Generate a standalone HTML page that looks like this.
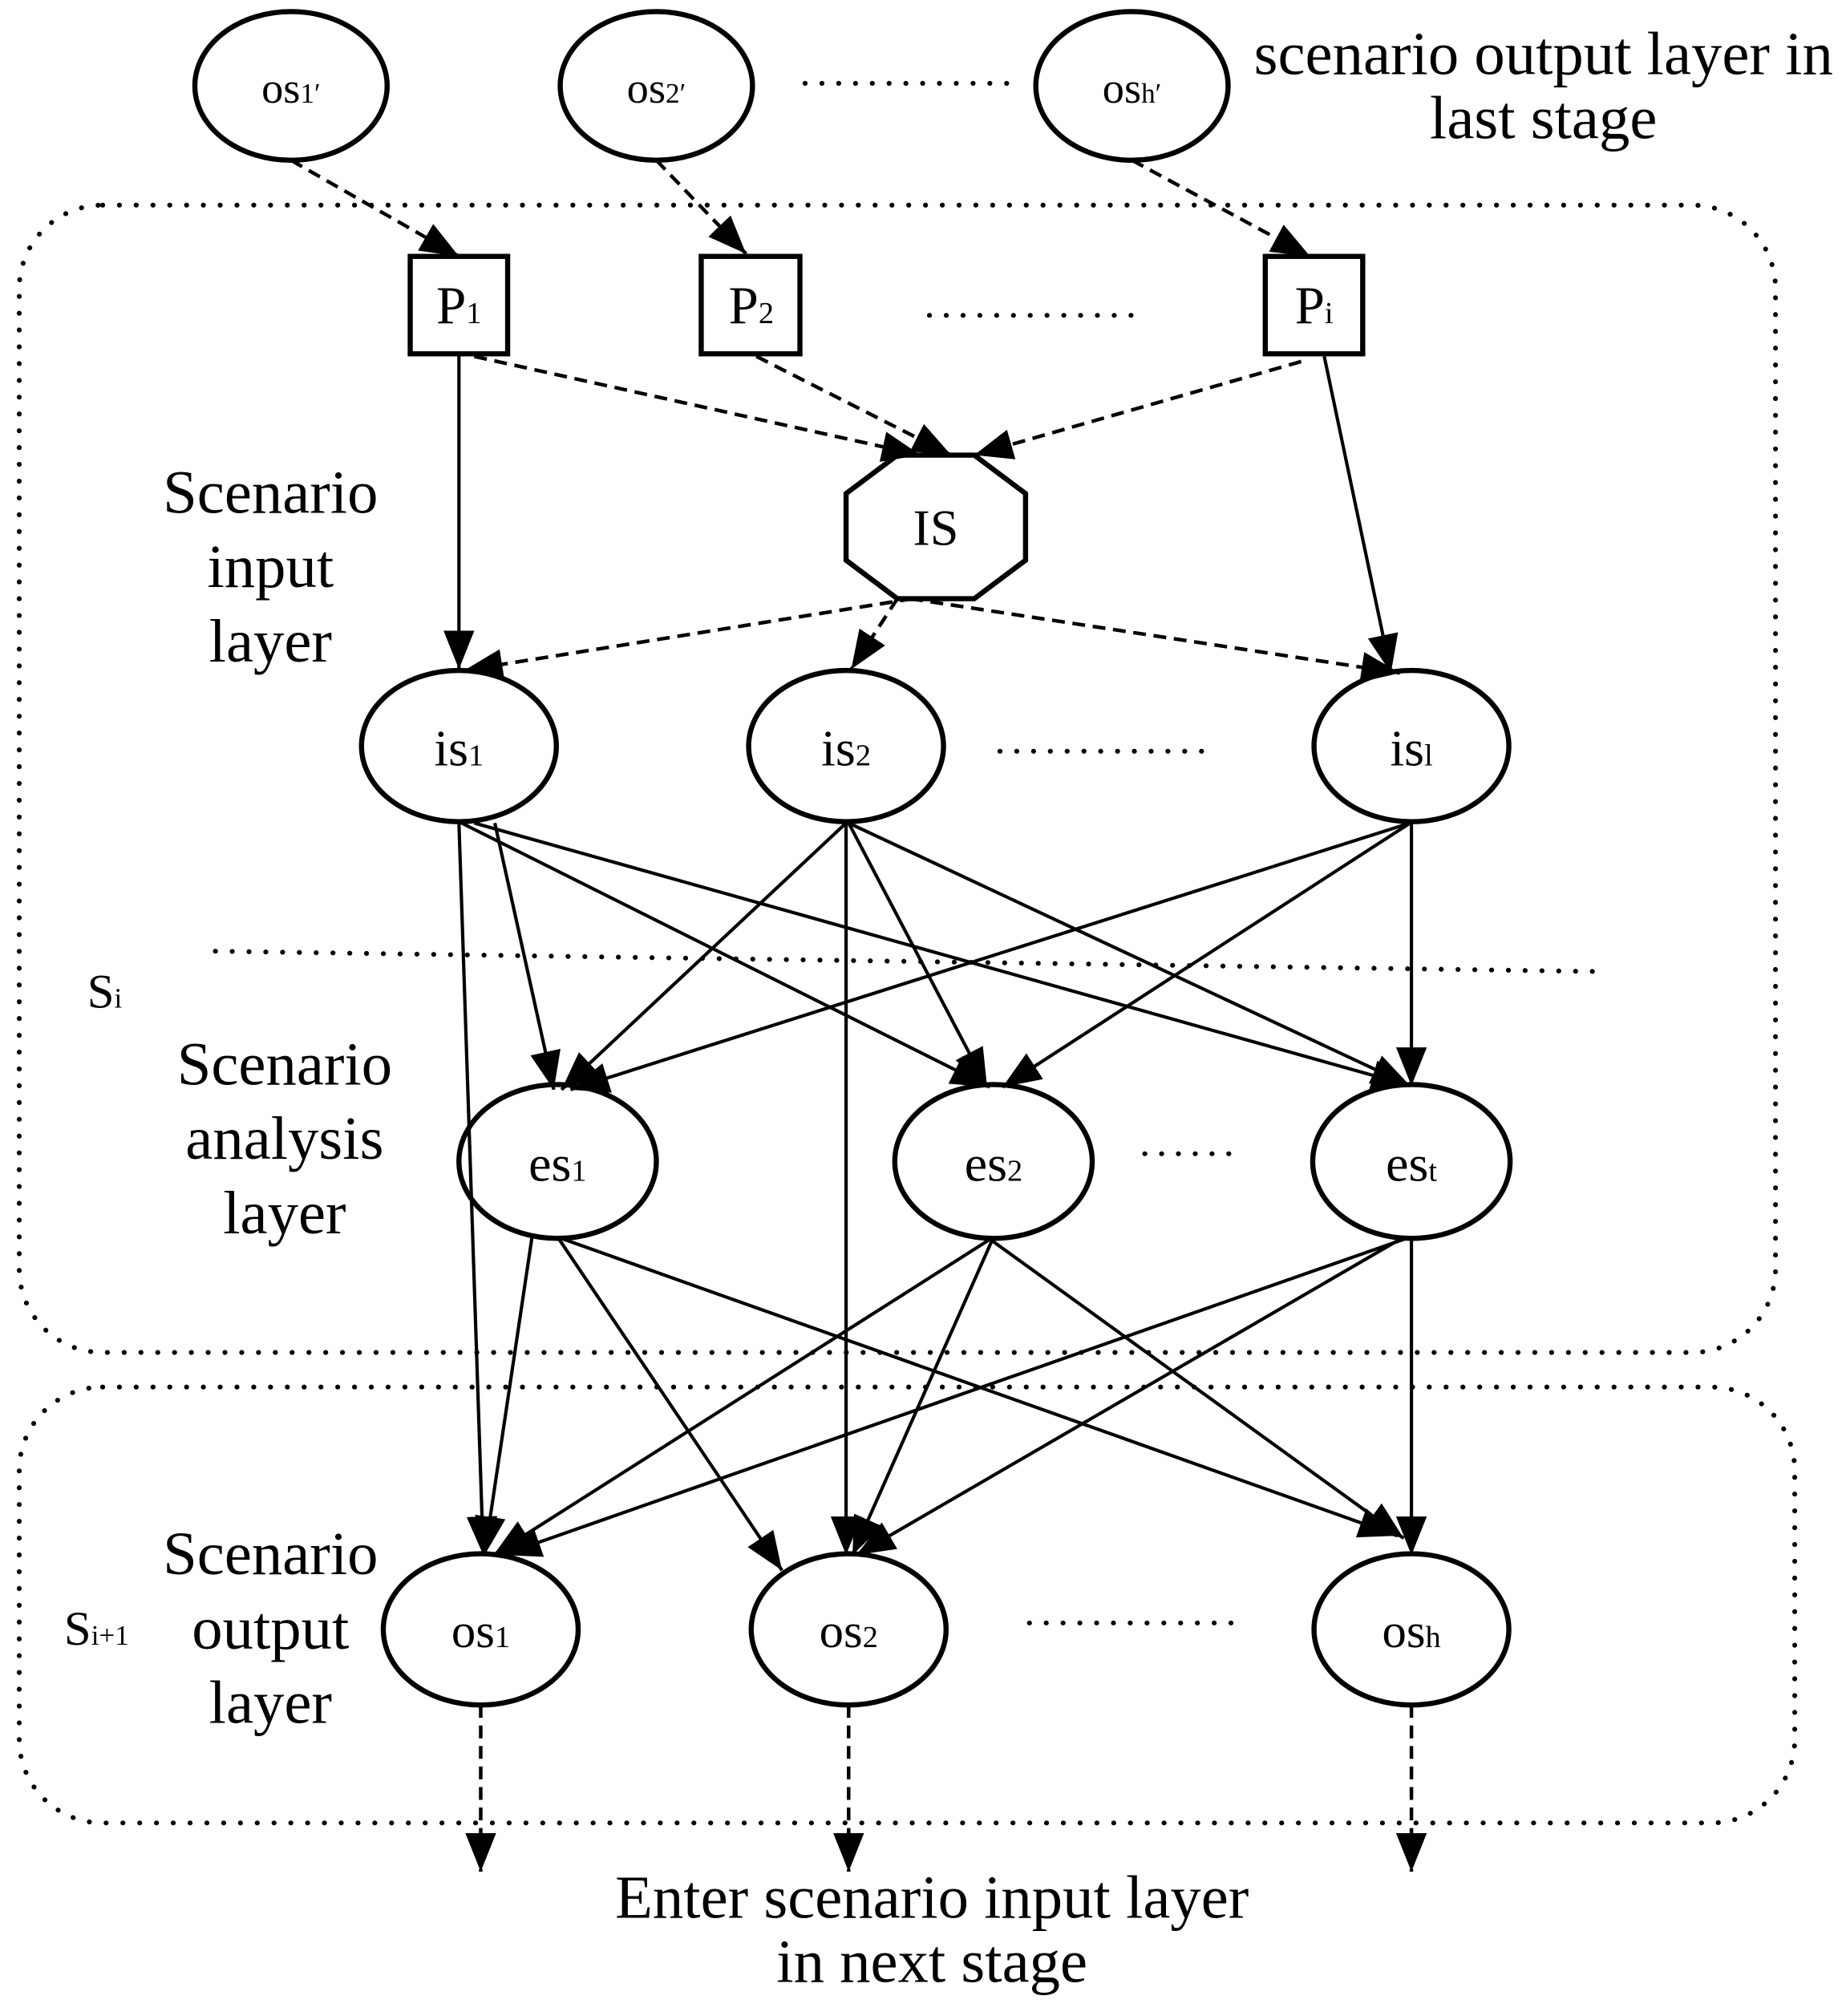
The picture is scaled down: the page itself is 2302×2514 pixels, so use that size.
<!DOCTYPE html>
<html><head><meta charset="utf-8"><style>html,body{margin:0;padding:0;background:#fff}svg{display:block}</style></head>
<body>
<svg width="2302" height="2514" viewBox="0 0 1440 1572.6" xmlns="http://www.w3.org/2000/svg" font-family="Liberation Serif, serif">
<defs>
<marker id="a" markerUnits="userSpaceOnUse" markerWidth="32" markerHeight="26" refX="30" refY="12" orient="auto"><path d="M0,0 L30,12 L0,24 z" fill="#000"/></marker>
</defs>
<g fill="none" stroke="#000" stroke-width="3.8" stroke-dasharray="0.1 13" stroke-linecap="round">
<rect x="15" y="160" width="1370" height="895" rx="65"/>
<rect x="15" y="1082" width="1385" height="340" rx="65"/>
<line x1="168" y1="742" x2="1255" y2="758"/>
<line x1="628" y1="65" x2="790" y2="65"/>
<line x1="725" y1="246" x2="885" y2="246"/>
<line x1="780" y1="586" x2="940" y2="586"/>
<line x1="893" y1="900" x2="968" y2="900"/>
<line x1="803" y1="1266" x2="962" y2="1266"/>
</g>
<g fill="#fff" stroke="#000" stroke-width="4">
<ellipse cx="227" cy="67" rx="75" ry="58"/><ellipse cx="512" cy="67" rx="75" ry="58"/><ellipse cx="883" cy="67" rx="75" ry="58"/>
<rect x="320" y="200" width="76" height="76"/><rect x="547" y="200" width="77" height="76"/><rect x="987" y="200" width="76" height="76"/>
<polygon points="700,355 760,355 800,385 800,437 760,467 700,467 660,437 660,385"/>
<ellipse cx="358" cy="582" rx="76" ry="59"/><ellipse cx="660" cy="582" rx="76" ry="59"/><ellipse cx="1101" cy="582" rx="76" ry="59"/>
<ellipse cx="435" cy="906" rx="77" ry="60"/><ellipse cx="775" cy="906" rx="77" ry="60"/><ellipse cx="1101" cy="906" rx="77" ry="60"/>
<ellipse cx="375" cy="1271" rx="76" ry="59"/><ellipse cx="662" cy="1271" rx="76" ry="59"/><ellipse cx="1101" cy="1271" rx="76" ry="59"/>
</g>
<g stroke="#000" stroke-width="2.8" fill="none" marker-end="url(#a)" stroke-dasharray="10 6">
<line x1="227" y1="125" x2="358" y2="200"/><line x1="512" y1="125" x2="582" y2="198"/><line x1="883" y1="125" x2="1022" y2="200"/>
<line x1="370" y1="278" x2="718" y2="355"/><line x1="590" y1="278" x2="742" y2="355"/><line x1="1015" y1="282" x2="760" y2="355"/>
<line x1="712" y1="467" x2="362" y2="523"/><line x1="700" y1="467" x2="664" y2="522"/><line x1="710" y1="467" x2="1092" y2="525"/>
<line x1="375" y1="1330" x2="375" y2="1460"/><line x1="662" y1="1330" x2="662" y2="1460"/><line x1="1101" y1="1330" x2="1101" y2="1460"/>
</g>
<g stroke="#000" stroke-width="2.6" fill="none" marker-end="url(#a)">
<line x1="358" y1="278" x2="358" y2="522"/><line x1="1033" y1="278" x2="1085" y2="525"/>
<line x1="386" y1="642" x2="432" y2="850"/><line x1="360" y1="642" x2="772" y2="848"/><line x1="370" y1="642" x2="1100" y2="847"/><line x1="358" y1="642" x2="377" y2="1213"/>
<line x1="660" y1="642" x2="438" y2="850"/><line x1="662" y1="642" x2="770" y2="848"/><line x1="662" y1="642" x2="1100" y2="847"/><line x1="660" y1="642" x2="660" y2="1213"/>
<line x1="1100" y1="642" x2="445" y2="850"/><line x1="1100" y1="642" x2="782" y2="848"/><line x1="1101" y1="642" x2="1101" y2="847"/>
<line x1="415" y1="965" x2="378" y2="1213"/><line x1="435" y1="965" x2="610" y2="1225"/><line x1="435" y1="965" x2="1090" y2="1198"/>
<line x1="775" y1="965" x2="385" y2="1213"/><line x1="775" y1="965" x2="665" y2="1213"/><line x1="770" y1="965" x2="1095" y2="1200"/>
<line x1="1100" y1="965" x2="392" y2="1213"/><line x1="1095" y1="965" x2="668" y2="1213"/><line x1="1101" y1="965" x2="1101" y2="1213"/>
</g>
<g font-size="34" text-anchor="middle" fill="#000">
<text x="227" y="80">os<tspan font-size="22">1′</tspan></text>
<text x="512" y="80">os<tspan font-size="22">2′</tspan></text>
<text x="883" y="80">os<tspan font-size="22">h′</tspan></text>
<text x="358" y="252" font-size="42">P<tspan font-size="24">1</tspan></text>
<text x="586" y="252" font-size="42">P<tspan font-size="24">2</tspan></text>
<text x="1025" y="252" font-size="42">P<tspan font-size="24">i</tspan></text>
<text x="730" y="425" font-size="40">IS</text>
<text x="358" y="597" font-size="40">is<tspan font-size="24">1</tspan></text>
<text x="660" y="597" font-size="40">is<tspan font-size="24">2</tspan></text>
<text x="1101" y="597" font-size="40">is<tspan font-size="24">l</tspan></text>
<text x="435" y="921" font-size="40">es<tspan font-size="24">1</tspan></text>
<text x="775" y="921" font-size="40">es<tspan font-size="24">2</tspan></text>
<text x="1101" y="921" font-size="40">es<tspan font-size="24">t</tspan></text>
<text x="375" y="1285" font-size="38">os<tspan font-size="24">1</tspan></text>
<text x="662" y="1285" font-size="38">os<tspan font-size="24">2</tspan></text>
<text x="1101" y="1285" font-size="38">os<tspan font-size="24">h</tspan></text>
</g>
<g font-size="48" text-anchor="middle" fill="#000">
<text x="1204" y="58">scenario output layer in</text>
<text x="1204" y="108">last stage</text>
<text x="211" y="400">Scenario</text><text x="211" y="458">input</text><text x="211" y="516">layer</text>
<text x="222" y="846">Scenario</text><text x="222" y="904">analysis</text><text x="222" y="962">layer</text>
<text x="211" y="1228">Scenario</text><text x="211" y="1286">output</text><text x="211" y="1344">layer</text>
<text x="727" y="1496">Enter scenario input layer</text>
<text x="727" y="1546">in next stage</text>
</g>
<text x="68" y="786" font-size="38" fill="#000">S<tspan font-size="22">i</tspan></text>
<text x="50" y="1283" font-size="38" fill="#000">S<tspan font-size="22">i+1</tspan></text>
</svg>
</body></html>
